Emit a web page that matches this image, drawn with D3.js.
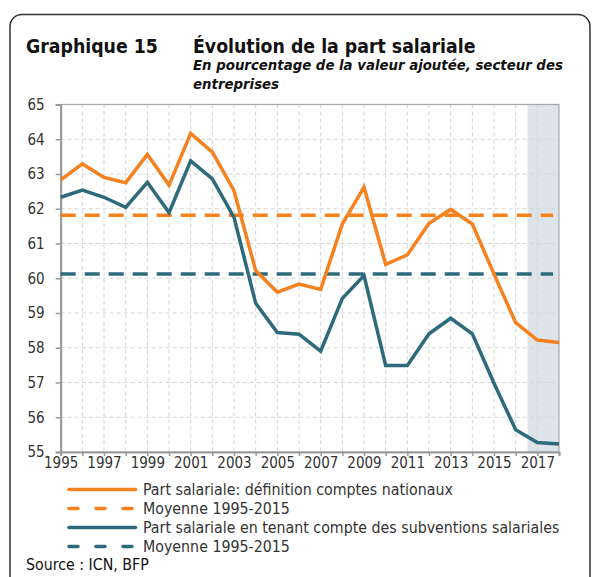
<!DOCTYPE html>
<html>
<head>
<meta charset="utf-8">
<script src="https://cdn.jsdelivr.net/npm/d3@7"></script>
<style>
  body { margin: 0; background: #fff; }
  svg text { font-family: "DejaVu Sans Condensed", "DejaVu Sans", sans-serif; font-stretch: condensed; fill: #333; }
</style>
</head>
<body>
<div id="chart"></div>
<script>
// données
const years = d3.range(1995, 2019);
const partSalariale = [62.83, 63.29, 62.9, 62.75, 63.56, 62.68, 64.17, 63.63, 62.52, 60.22,
  59.6, 59.83, 59.68, 61.56, 62.62, 60.4, 60.67, 61.58, 61.98, 61.56, 60.12, 58.72, 58.22, 58.15];
const partSubventions = [62.33, 62.54, 62.33, 62.04, 62.76, 61.89, 63.38, 62.86, 61.75, 59.28,
  58.44, 58.39, 57.9, 59.42, 60.08, 57.49, 57.49, 58.4, 58.85, 58.4, 56.98, 55.64, 55.27, 55.23];
const moyennes = [61.81, 60.12];
const yTicks = d3.range(55, 66);
const xLabels = d3.range(1995, 2019, 2);
const prevision = [2016.55, 2018];
const legendLabels = [
  "Part salariale: définition comptes nationaux",
  "Moyenne 1995-2015",
  "Part salariale en tenant compte des subventions salariales",
  "Moyenne 1995-2015"
];

const orange = "#f5821f", bleu = "#2c6a7c";
const width = 595, height = 577;
const margin = {top: 104.5, right: 36, bottom: 125, left: 60.7};

const svg = d3.select("#chart").append("svg")
  .attr("width", width).attr("height", height);

// cadre arrondi
svg.append("rect")
  .attr("x", 10).attr("y", 14.5).attr("width", 580).attr("height", 600)
  .attr("rx", 12).attr("fill", "none").attr("stroke", "#333").attr("stroke-width", 1.5);

// titres
svg.append("text").attr("x", 26).attr("y", 53)
  .style("font-size", "19.3px").style("font-weight", "bold").style("fill", "#111")
  .text("Graphique 15");
svg.append("text").attr("x", 193).attr("y", 53)
  .style("font-size", "19.3px").style("font-weight", "bold").style("fill", "#111")
  .text("Évolution de la part salariale");
svg.append("text").attr("x", 193).attr("y", 70)
  .style("font-size", "14.8px").style("font-weight", "bold").style("font-style", "italic").style("fill", "#111")
  .text("En pourcentage de la valeur ajoutée, secteur des");
svg.append("text").attr("x", 193).attr("y", 88.5)
  .style("font-size", "14.8px").style("font-weight", "bold").style("font-style", "italic").style("fill", "#111")
  .text("entreprises");

const x = d3.scaleLinear().domain([1995, 2018]).range([margin.left, width - margin.right]);
const y = d3.scaleLinear().domain([55, 65]).range([height - margin.bottom, margin.top]);

// zone de prévision
svg.append("rect")
  .attr("x", x(prevision[0])).attr("y", y(65))
  .attr("width", x(prevision[1]) - x(prevision[0])).attr("height", y(55) - y(65))
  .attr("fill", "#dde4e9");

// grille
svg.append("g").selectAll("line").data(years.slice(1, -1)).join("line")
  .attr("x1", d => x(d)).attr("x2", d => x(d))
  .attr("y1", y(65)).attr("y2", y(55))
  .attr("stroke", "#d4d4d4").attr("stroke-dasharray", "4,3");
svg.append("g").selectAll("line").data(yTicks.slice(1, -1)).join("line")
  .attr("x1", x(1995)).attr("x2", x(2018))
  .attr("y1", d => y(d)).attr("y2", d => y(d))
  .attr("stroke", "#d4d4d4").attr("stroke-dasharray", "4,3");

// bord du graphique
svg.append("rect")
  .attr("x", x(1995)).attr("y", y(65))
  .attr("width", x(2018) - x(1995)).attr("height", y(55) - y(65))
  .attr("fill", "none").attr("stroke", "#aaa").attr("stroke-width", 1.2);

// axes
const xAxis = svg.append("g").attr("transform", `translate(0,${y(55)})`)
  .call(d3.axisBottom(x).tickValues(years).tickSize(4).tickFormat(d => xLabels.includes(d) ? d : ""));
xAxis.select(".domain").attr("stroke", "#999").attr("stroke-width", 2);
xAxis.selectAll(".tick line").attr("stroke", "#999").attr("stroke-width", 1.5);
xAxis.selectAll("text").attr("y", 5).style("font-size", "15px").style("fill", "#333");

const yAxis = svg.append("g").attr("transform", `translate(${x(1995)},0)`)
  .call(d3.axisLeft(y).tickValues(yTicks).tickSize(5));
yAxis.select(".domain").attr("stroke", "#999").attr("stroke-width", 2);
yAxis.selectAll(".tick line").attr("stroke", "#999").attr("stroke-width", 1.5);
yAxis.selectAll("text").attr("x", -16).style("font-size", "15px").style("fill", "#333");

// moyennes
const couleurs = [orange, bleu];
svg.append("g").selectAll("line").data(moyennes).join("line")
  .attr("x1", x(1995)).attr("x2", x(2018) - 6)
  .attr("y1", d => y(d)).attr("y2", d => y(d))
  .attr("stroke", (d, i) => couleurs[i]).attr("stroke-width", 3.5)
  .attr("stroke-dasharray", "15,9");

// séries
const line = d3.line().x((d, i) => x(years[i])).y(d => y(d));
[partSalariale, partSubventions].forEach((serie, i) => {
  svg.append("path").datum(serie)
    .attr("d", line).attr("fill", "none")
    .attr("stroke", couleurs[i]).attr("stroke-width", 3.5)
    .attr("stroke-linejoin", "miter");
});

// légende
const legendColors = [orange, orange, bleu, bleu];
const legendDash = [null, "9,18", null, "9,18"];
const legY = [489.5, 508.5, 527.5, 546.5];
legendLabels.forEach((lab, i) => {
  svg.append("line")
    .attr("x1", 69).attr("x2", 135.5).attr("y1", legY[i]).attr("y2", legY[i])
    .attr("stroke", legendColors[i]).attr("stroke-width", 3.5)
    .attr("stroke-linecap", "round")
    .attr("stroke-dasharray", legendDash[i]);
  svg.append("text").attr("x", 143).attr("y", legY[i] + 5.5)
    .style("font-size", "15.8px").text(lab);
});

svg.append("text").attr("x", 26).attr("y", 570)
  .style("font-size", "15.8px").style("fill", "#111").text("Source : ICN, BFP");
</script>
</body>
</html>
